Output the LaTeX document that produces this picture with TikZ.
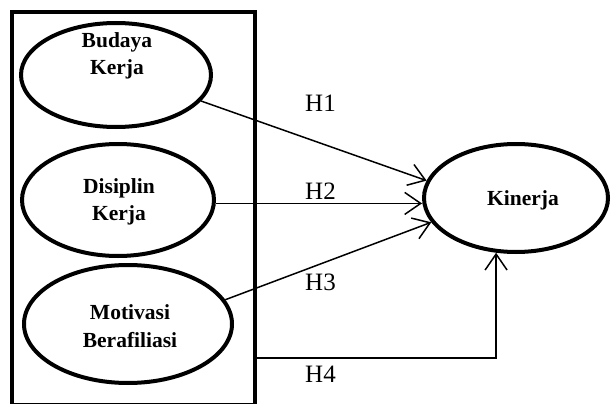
\documentclass[tikz,border=0pt]{standalone}
\usepackage{fontspec}
\setmainfont{Liberation Serif}
\usetikzlibrary{shapes.geometric,arrows.meta}

\begin{document}
\begin{tikzpicture}[x=1pt,y=-1pt,
  var/.style={ellipse,draw,line width=4pt,inner sep=0pt},
  lbl/.style={font=\fontsize{21.5}{27}\selectfont\bfseries,align=center,inner sep=0pt},
  hyp/.style={font=\fontsize{25}{28}\selectfont,inner sep=0pt,anchor=base west},
  link/.style={line width=1.5pt,-{Straight Barb[length=16pt,width=22pt]}}]
\useasboundingbox (0,0) rectangle (611,404);

\draw[line width=4pt] (12,12) rectangle (255,405);

\node[var,minimum width=190pt,minimum height=104pt] (budaya) at (116,75) {};
\node[var,minimum width=192pt,minimum height=112pt] (disiplin) at (118,200) {};
\node[var,minimum width=208pt,minimum height=118pt] (motivasi) at (128,324) {};
\node[var,minimum width=184pt,minimum height=108pt] (kinerja) at (516,198) {};

\node[lbl] (tbudaya) at (117,56) {Budaya\\Kerja};
\node[lbl] (tdisiplin) at (119,202) {Disiplin\\Kerja};
\node[lbl] (tmotivasi) at (130,326) {Motivasi\\[1pt]Berafiliasi};
\node[lbl,anchor=base] (tkinerja) at (523,205) {Kinerja};

\coordinate (h4start) at (255,358);

\draw[link] (budaya.-17) -- (kinerja.169);
\draw[link] (disiplin.-2) -- (disiplin.-2 -| kinerja.west);
\draw[link] (motivasi.14) -- (kinerja.-164);
\draw[link] (h4start) -| (kinerja.250);

\node[hyp] (h1) at (305,112) {H1};
\node[hyp] (h2) at (305,199) {H2};
\node[hyp] (h3) at (305,290) {H3};
\node[hyp] (h4) at (305,382) {H4};
\end{tikzpicture}
\end{document}
